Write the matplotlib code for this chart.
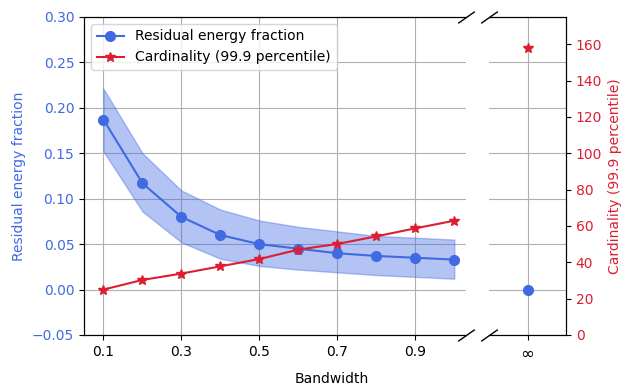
import matplotlib
matplotlib.use("Agg")
import matplotlib.pyplot as plt
import numpy as np

bandwidth = [0.1, 0.2, 0.3, 0.4, 0.5, 0.6, 0.7, 0.8, 0.9, 1.0]
residual_mean = [0.187, 0.117, 0.080, 0.060, 0.050, 0.045, 0.040, 0.037, 0.035, 0.033]
residual_upper = [0.221, 0.150, 0.109, 0.088, 0.076, 0.069, 0.064, 0.059, 0.057, 0.055]
residual_lower = [0.152, 0.086, 0.052, 0.034, 0.026, 0.022, 0.019, 0.016, 0.014, 0.012]
cardinality = [25, 30.3, 33.8, 37.8, 41.8, 47.0, 50.1, 54.3, 58.7, 62.9]
residual_inf = [0.0]
cardinality_inf = [158]
xtick_vals = [0.1, 0.3, 0.5, 0.7, 0.9]
xtick_labels = ["0.1", "0.3", "0.5", "0.7", "0.9"]
card_ticks = [0, 20, 40, 60, 80, 100, 120, 140, 160]

blue = "royalblue"
red = "#DC1E32"

W, H = 629, 385
fig = plt.figure(figsize=(W / 100, H / 100), dpi=100)

def rect(x0, x1, y0, y1):
    return [x0 / W, (H - y1) / H, (x1 - x0) / W, (y1 - y0) / H]

ax = fig.add_axes(rect(84, 466, 17, 335))
axr = fig.add_axes(rect(489, 566, 17, 335), sharey=ax)

# left panel
ax.fill_between(bandwidth, residual_lower, residual_upper, color=blue, alpha=0.4)
l1, = ax.plot(bandwidth, residual_mean, "-o", color=blue, markersize=7, label="Residual energy fraction")
ax.set_ylim(-0.05, 0.30)
ax.set_xlim(0.05, 1.03)
ax.set_xticks(xtick_vals)
ax.set_xticklabels(xtick_labels)
ax.set_ylabel("Residual energy fraction", color=blue)
ax.grid(True)
ax.set_axisbelow(True)
ax.spines["right"].set_visible(False)

axt = ax.twinx()
l2, = axt.plot(bandwidth, cardinality, "-*", color=red, markersize=7, label="Cardinality (99.9 percentile)")
axt.set_ylim(0, 175)
axt.set_yticks([])
axt.spines["right"].set_visible(False)
ax.tick_params(axis="y", colors="black", labelcolor=blue, right=False)

ax.legend(handles=[l1, l2], loc="upper left")

# right panel
axr.plot([0], residual_inf, "o", color=blue, markersize=7)
axr.set_xlim(-1, 1)
axr.set_xticks([0])
axr.set_xticklabels(["∞"], fontsize=12)
axr.grid(True)
axr.set_axisbelow(True)
axr.spines["left"].set_visible(False)

axrt = axr.twinx()
axrt.plot([0], cardinality_inf, "*", color=red, markersize=7)
axrt.set_ylim(0, 175)
axrt.set_yticks(card_ticks)
axrt.tick_params(axis="y", colors="black", labelcolor=red)
axrt.set_ylabel("Cardinality (99.9 percentile)", color=red)
axrt.spines["left"].set_visible(False)
axr.tick_params(axis="y", left=False, labelleft=False, right=False, labelright=False)

# break marks
d = 0.7
kw = dict(marker=[(-1, -d), (1, d)], markersize=12, linestyle="none",
          color="k", mec="k", mew=1, clip_on=False)
ax.plot([1, 1], [0, 1], transform=ax.transAxes, **kw)
axr.plot([0, 0], [0, 1], transform=axr.transAxes, **kw)

fig.text(332 / W, 1 - 379 / H, "Bandwidth", ha="center", va="center", fontsize=10)

fig.savefig("out.png", dpi=100)
